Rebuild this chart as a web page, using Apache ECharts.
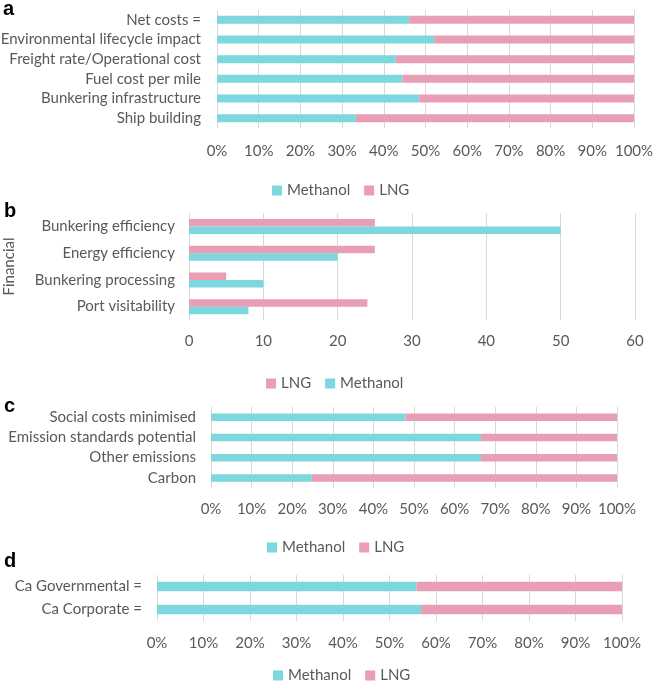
<!DOCTYPE html>
<html>
<head>
<meta charset="utf-8">
<script src="https://cdn.jsdelivr.net/npm/echarts@6/dist/echarts.min.js"></script>
<style>
  html, body { margin: 0; padding: 0; background: #fff; }
  #chart { width: 655px; height: 685px; }
</style>
</head>
<body>
<div id="chart"></div>
<script>
// panel a (category order bottom -> top)
var catsA = ['Ship building', 'Bunkering infrastructure', 'Fuel cost per mile',
    'Freight rate/Operational cost', 'Environmental lifecycle impact', 'Net costs ='];
var methA = [33.3, 48.5, 44.5, 42.9, 52.1, 46.1];
var lngA = [66.7, 51.5, 55.5, 57.1, 47.9, 53.9];

// panel b
var catsB = ['Port visitability', 'Bunkering processing', 'Energy efficiency', 'Bunkering efficiency'];
var methB = [8, 10, 20, 50];
var lngB = [24, 5, 25, 25];

// panel c
var catsC = ['Carbon', 'Other emissions', 'Emission standards potential', 'Social costs minimised'];
var methC = [24.8, 66.5, 66.5, 47.9];
var lngC = [75.2, 33.5, 33.5, 52.1];

// panel d
var catsD = ['Ca Corporate =', 'Ca Governmental ='];
var methD = [56.8, 55.8];
var lngD = [43.2, 44.2];

var CYAN = '#7dd7de';
var PINK = '#e89eb4';
var TXT = '#595959';
var FONT = 'Lato';
var FS = 15;

function xAxisCfg(idx, max, interval, pct, margin) {
    return {
        type: 'value', gridIndex: idx, min: 0, max: max, interval: interval,
        axisLine: {show: false}, axisTick: {show: false},
        splitLine: {lineStyle: {color: '#d9d9d9', width: 1}},
        axisLabel: {
            color: TXT, fontFamily: FONT, fontSize: FS, margin: margin,
            formatter: pct ? '{value}%' : '{value}'
        }
    };
}
function yAxisCfg(idx, cats, margin) {
    return {
        type: 'category', gridIndex: idx, data: cats,
        axisLine: {show: false}, axisTick: {show: false},
        axisLabel: {color: TXT, fontFamily: FONT, fontSize: FS, margin: margin}
    };
}
function stackPair(idx, meth, lng, w) {
    return [
        {name: 'Methanol', type: 'bar', stack: 's' + idx, xAxisIndex: idx, yAxisIndex: idx,
            data: meth, barWidth: w, itemStyle: {color: CYAN}},
        {name: 'LNG', type: 'bar', stack: 's' + idx, xAxisIndex: idx, yAxisIndex: idx,
            data: lng, barWidth: w, itemStyle: {color: PINK}}
    ];
}
function legendCfg(top, left, names) {
    return {
        top: top, left: left, data: names, itemWidth: 10, itemHeight: 10, itemGap: 14,
        icon: 'rect', selectedMode: false,
        textStyle: {color: TXT, fontFamily: FONT, fontSize: FS}
    };
}
function gridCfg(left, right, top, height) {
    return {left: left, right: right, top: top, height: height,
        containLabel: false, outerBoundsMode: 'none'};
}

var xB = xAxisCfg(1, 60, 10, false, 14);
var yB = yAxisCfg(1, catsB, 14);
yB.name = 'Financial';
yB.nameLocation = 'middle';
yB.nameRotate = 90;
yB.nameGap = 172;
yB.nameTextStyle = {color: TXT, fontFamily: FONT, fontSize: FS};

var series = [].concat(
    stackPair(0, methA, lngA, 8),
    [
        {name: 'LNG', type: 'bar', xAxisIndex: 1, yAxisIndex: 1, data: lngB,
            barWidth: 7.5, barGap: '0%', itemStyle: {color: PINK}},
        {name: 'Methanol', type: 'bar', xAxisIndex: 1, yAxisIndex: 1, data: methB,
            barWidth: 7.5, barGap: '0%', itemStyle: {color: CYAN}}
    ],
    stackPair(2, methC, lngC, 7.5),
    stackPair(3, methD, lngD, 9.5)
);

var letterFont = 'bold 20px "Liberation Sans"';

var chart = echarts.init(document.getElementById('chart'));
chart.setOption({
    animation: false,
    grid: [
        gridCfg(217, 21, 10, 118),
        gridCfg(189, 20, 213, 107),
        gridCfg(211, 38, 407, 81),
        gridCfg(157, 33, 575, 46)
    ],
    xAxis: [
        xAxisCfg(0, 100, 10, true, 16),
        xB,
        xAxisCfg(2, 100, 10, true, 14),
        xAxisCfg(3, 100, 10, true, 15)
    ],
    yAxis: [
        yAxisCfg(0, catsA, 16),
        yB,
        yAxisCfg(2, catsC, 15),
        yAxisCfg(3, catsD, 15)
    ],
    legend: [
        legendCfg(178, 267, ['Methanol', 'LNG']),
        legendCfg(371, 261, ['LNG', 'Methanol']),
        legendCfg(535, 262, ['Methanol', 'LNG']),
        legendCfg(663, 268, ['Methanol', 'LNG'])
    ],
    graphic: [
        {type: 'text', left: 3, top: -1, style: {text: 'a', font: letterFont, fill: '#000'}},
        {type: 'text', left: 4, top: 201, style: {text: 'b', font: letterFont, fill: '#000'}},
        {type: 'text', left: 4, top: 396, style: {text: 'c', font: letterFont, fill: '#000'}},
        {type: 'text', left: 4, top: 551, style: {text: 'd', font: letterFont, fill: '#000'}}
    ],
    series: series
});
</script>
</body>
</html>
